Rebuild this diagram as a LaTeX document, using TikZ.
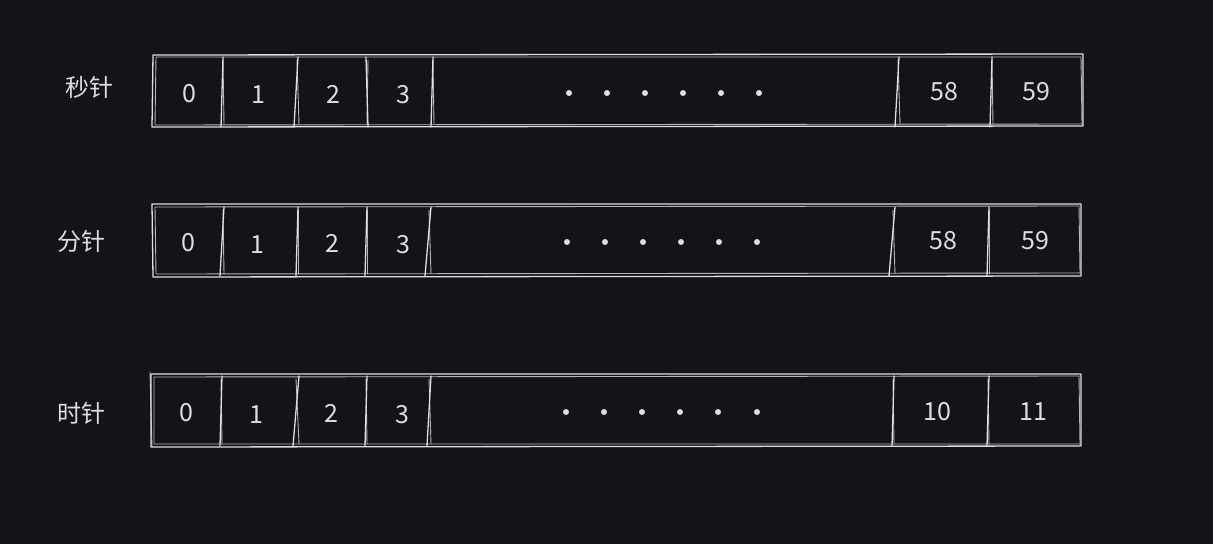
\documentclass[tikz,border=0pt]{standalone}
\usepackage{fontspec}
\newfontfamily\cjk{Noto Sans CJK SC}
\definecolor{bg}{HTML}{121418}
\definecolor{ink}{HTML}{DEDEDE}
\begin{document}
\begin{tikzpicture}[x=1pt,y=-1pt,
  sk/.style={draw=ink, line width=1.3pt, line cap=round, line join=round},
  sk2/.style={draw=ink, line width=0.9pt, line cap=round, opacity=0.8},
  lbl/.style={text=ink, inner sep=0pt, font=\cjk\fontsize{24}{24}\selectfont},
  num/.style={text=ink, inner sep=0pt, font=\cjk\fontsize{25}{25}\selectfont},
  dot/.style={circle, fill=ink, inner sep=0pt, minimum size=6pt}]
\fill[bg] (0,0) rectangle (1213,544);
\useasboundingbox (0,0) rectangle (1213,544);

% ---------- row 1 : 秒针 ----------
\draw[sk] (153,55) -- (1083,54) -- (1083,126) -- (152,127) -- cycle;
\draw[sk2] (156,57) -- (1081,57) -- (1082,124) -- (155,125) -- cycle;
\foreach \x/\d in {222/1, 296/2, 367/-1, 432/1, 897/2, 991/1}{
  \draw[sk] (\x+\d,57) -- (\x-\d,127);
  \draw[sk2] (\x+1,60) -- (\x+\d+1,124);
}
\node[lbl] (s0) at (89,87) {秒针};
\node[num] (s1) at (189,94) {0};
\node[num] (s2) at (258,95) {1};
\node[num] (s3) at (333,94) {2};
\node[num] (s4) at (403,95) {3};
\foreach \i/\x in {1/569,2/607,3/645,4/683,5/721,6/759}
  \node[dot] (sd\i) at (\x,93) {};
\node[num] (s5) at (944,92) {58};
\node[num] (s6) at (1036,92) {59};

% ---------- row 2 : 分针 ----------
\draw[sk] (152,204) -- (1081,204) -- (1081,276) -- (153,277) -- cycle;
\draw[sk2] (155,207) -- (1079,206) -- (1080,273) -- (156,274) -- cycle;
\foreach \x/\d in {222/2, 297/1, 366/1, 428/3, 892/3, 988/1}{
  \draw[sk] (\x+\d,207) -- (\x-\d,276);
  \draw[sk2] (\x+1,210) -- (\x+\d,274);
}
\node[lbl] (m0) at (81,241) {分针};
\node[num] (m1) at (188,243) {0};
\node[num] (m2) at (257,245) {1};
\node[num] (m3) at (332,243) {2};
\node[num] (m4) at (403,245) {3};
\foreach \i/\x in {1/567,2/605,3/643,4/681,5/719,6/757}
  \node[dot] (md\i) at (\x,242) {};
\node[num] (m5) at (943,241) {58};
\node[num] (m6) at (1035,241) {59};

% ---------- row 3 : 时针 ----------
\draw[sk] (151,374) -- (1081,374) -- (1081,446) -- (151,447) -- cycle;
\draw[sk2] (154,377) -- (1079,376) -- (1080,444) -- (154,444) -- cycle;
\foreach \x/\d in {221/1, 296/3, 366/1, 429/2, 893/1, 988/1}{
  \draw[sk] (\x+\d,376) -- (\x-\d,446);
  \draw[sk2] (\x,379) -- (\x+\d,444);
}
\draw[sk2] (150,372) -- (152,447);
\node[lbl] (h0) at (81,413) {时针};
\node[num] (h1) at (186,413) {0};
\node[num] (h2) at (256,415) {1};
\node[num] (h3) at (331,413) {2};
\node[num] (h4) at (402,415) {3};
\foreach \i/\x in {1/566,2/604,3/642,4/680,5/718,6/757}
  \node[dot] (hd\i) at (\x,412) {};
\node[num] (h5) at (937,412) {10};
\node[num] (h6) at (1033,412) {11};
\end{tikzpicture}
\end{document}
